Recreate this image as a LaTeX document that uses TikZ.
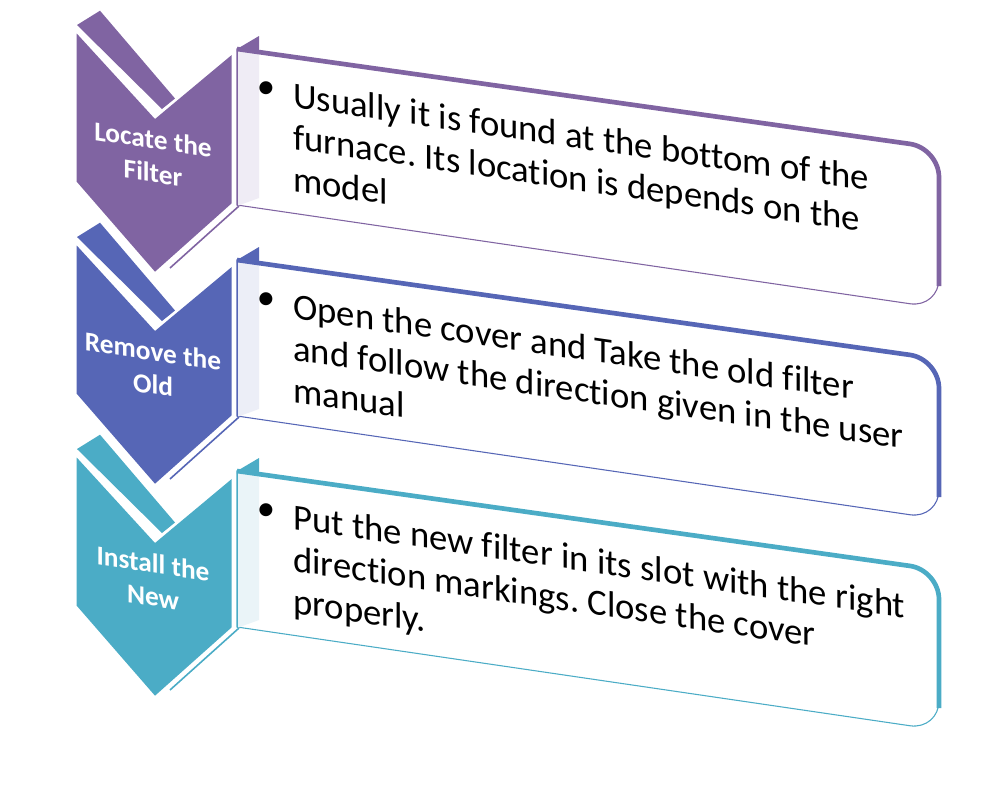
\documentclass[tikz,border=0pt]{standalone}
\usepackage{fontspec}
\setmainfont{Carlito}[Ligatures=NoCommon]
\frenchspacing
\definecolor{cA}{HTML}{8064A2}
\definecolor{cB}{HTML}{5666B6}
\definecolor{cC}{HTML}{4BACC6}
\definecolor{fA}{HTML}{EFECF5}
\definecolor{fB}{HTML}{ECEEF7}
\definecolor{fC}{HTML}{EAF4F8}
\newcommand\mystep[6]{%
  \begin{scope}[shift={(0,212*#1)}]
    \fill[#2] (77,25) -- (100,10.7) -- (175,98.5) -- (162,109) -- cycle;
    \fill[#2] (76.7,33.5) -- (155,119) -- (231.7,55) -- (231.7,203.3) -- (155,271.7) -- (76.7,181.7) -- cycle;
    \node[lbl] (L#6) at (153,156) {#4};
  \end{scope}
  \begin{scope}[shift={(0,211*#1)}]
    \filldraw[fill=white, draw=#2, line width=0.8pt] (588,98.5) [rounded corners=22] -- (939,148) -- (939,308) -- (588,256.5) [sharp corners] -- (237,205) -- (237,49) -- cycle;
    \fill[#3] (237,49) -- (259,53) -- (259,198) -- (237,206) -- cycle;
    \draw[#2, line width=0.6pt] (237,49) -- (237,206);
    \fill[#2] (237,49) -- (259,36) -- (259,53) -- cycle;
    \draw[#2, line width=3.5pt, rounded corners=22] (237,49) -- (939,148) -- (939,286);
    \draw[#2, line width=1.2pt] (239,206) -- (170,268);
    \node[bul] (B#6) at (266,90) {•};
    \node[txt] (T#6) at (293,191) {#5};
  \end{scope}
}
\begin{document}
\begin{tikzpicture}[x=0.75pt,y=-0.75pt,
  lbl/.style={text=white,font=\fontsize{20.5}{25}\selectfont\bfseries,align=center,yslant=-0.15,inner sep=0pt},
  txt/.style={font=\fontsize{27.5}{31.5}\selectfont,align=left,anchor=base west,yslant=-0.145,inner sep=0pt},
  bul/.style={font=\fontsize{27.5}{33}\selectfont,inner sep=0pt}]
\useasboundingbox (0,0) rectangle (1006,790);
\mystep{0}{cA}{fA}{Locate the\\Filter}{Usually it is found at the bottom of the\\furnace. Its location is depends on the\\model}{1}
\mystep{1}{cB}{fB}{Remove the\\Old}{Open the cover and Take the old filter\\and follow the direction given in the user\\manual}{2}
\mystep{2}{cC}{fC}{Install the\\New}{Put the new filter in its slot with the right\\direction markings. Close the cover\\properly.}{3}
\end{tikzpicture}
\end{document}
